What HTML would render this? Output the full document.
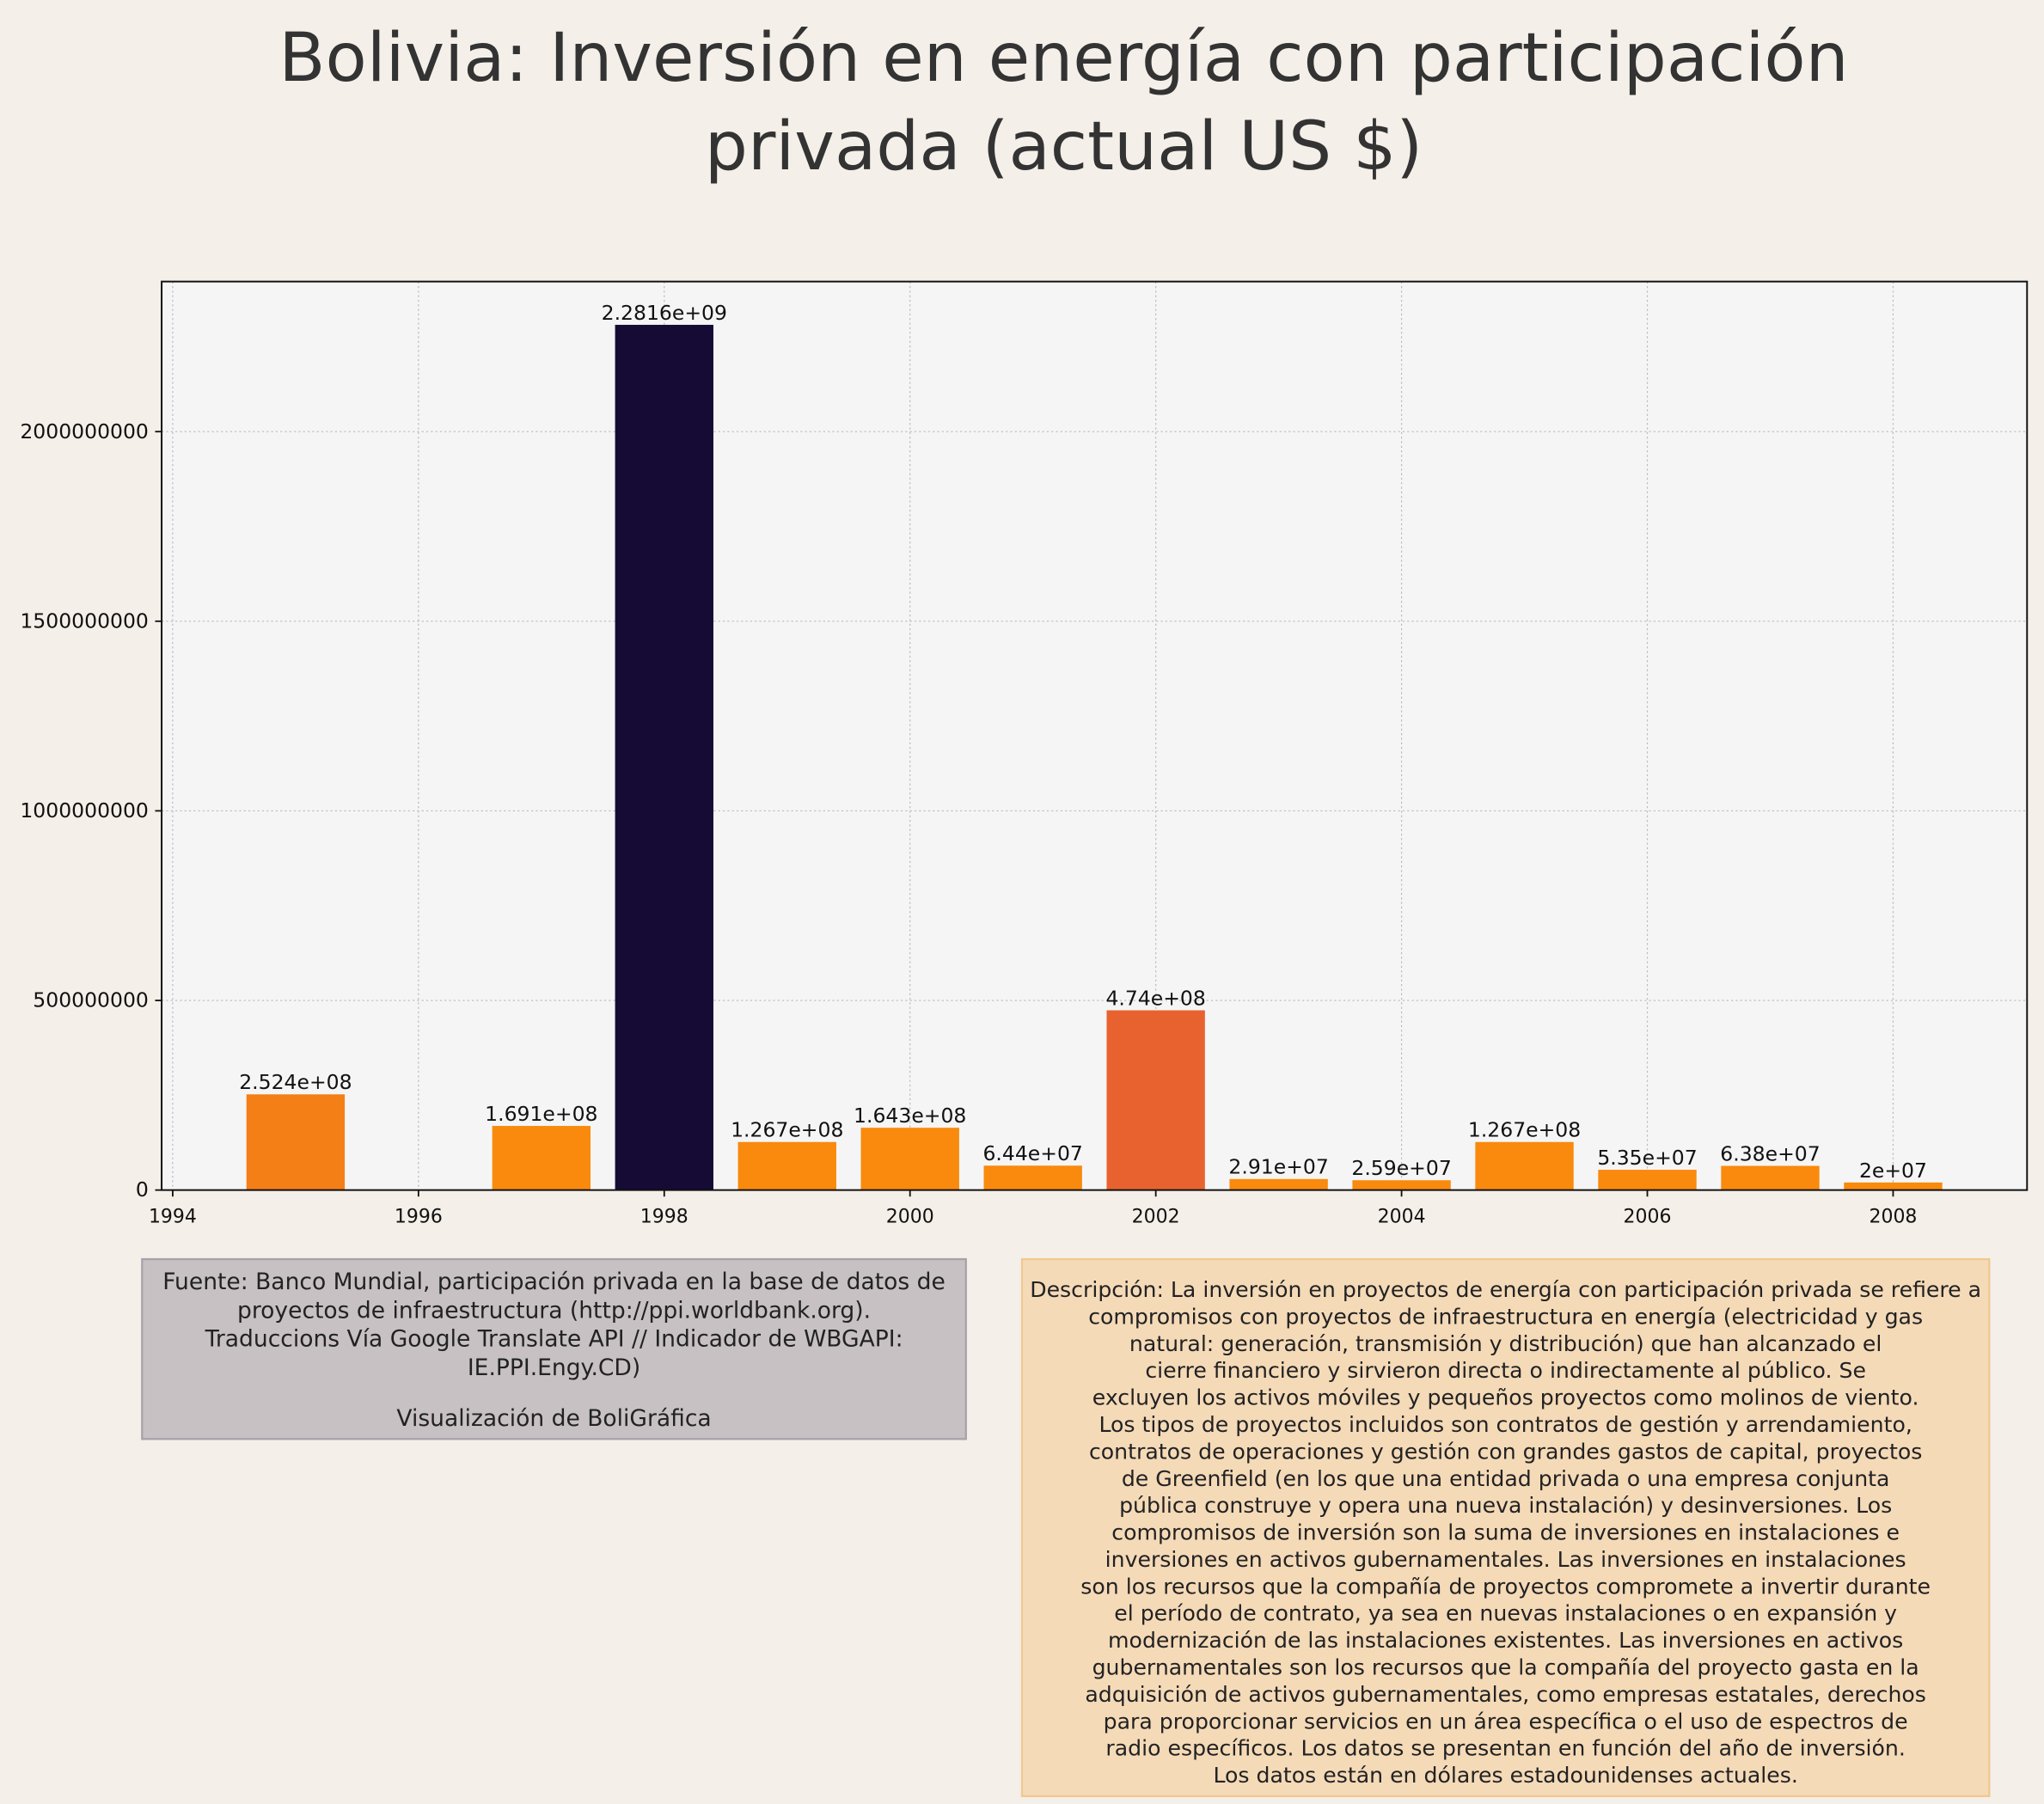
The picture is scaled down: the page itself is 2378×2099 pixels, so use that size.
<!DOCTYPE html>
<html><head><meta charset="utf-8"><style>
html,body{margin:0;padding:0;background:#f4efe8;}
svg{display:block;font-family:"DejaVu Sans","Liberation Sans",sans-serif;}
</style></head><body>
<svg id="chart" width="2378" height="2099" viewBox="0 0 1568 1384" xmlns="http://www.w3.org/2000/svg">
<rect width="1568" height="1384" fill="#f4efe8"/>
<g fill="#333" font-size="52" text-anchor="middle">
<text x="816" y="62">Bolivia:  Inversión en energía con participación</text>
<text x="816" y="130">privada (actual US $)</text>
</g>
<rect x="124" y="216" width="1431" height="697" fill="#f5f5f5"/>
<g id="grid"></g>
<g id="bars"></g>
<g id="labels"></g>
<rect x="124" y="216" width="1431" height="697" fill="none" stroke="#111" stroke-width="1.3"/>
<g id="xaxis"></g>
<g id="yaxis"></g>

<g>
<rect x="109" y="966" width="632" height="138" fill="#c7c1c3" stroke="#a9a1aa" stroke-width="1.5"/>
<g font-size="17.5" fill="#222" text-anchor="middle">
<text x="425" y="989">Fuente: Banco Mundial, participación privada en la base de datos de</text>
<text x="425" y="1011">proyectos de infraestructura (http://ppi.worldbank.org).</text>
<text x="425" y="1033">Traduccions Vía Google Translate API // Indicador de WBGAPI:</text>
<text x="425" y="1055">IE.PPI.Engy.CD)</text>
<text x="425" y="1094">Visualización de BoliGráfica</text>
</g></g>

<g>
<rect x="784" y="966" width="742" height="412" fill="#f5dab8" stroke="#f0c890" stroke-width="1.5"/>
<g font-size="16.6" fill="#222" text-anchor="middle">
<text x="1155" y="995">Descripción: La inversión en proyectos de energía con participación privada se refiere a</text>
<text x="1155" y="1015.7">compromisos con proyectos de infraestructura en energía (electricidad y gas</text>
<text x="1155" y="1036.4">natural: generación, transmisión y distribución) que han alcanzado el</text>
<text x="1155" y="1057.1">cierre financiero y sirvieron directa o indirectamente al público. Se</text>
<text x="1155" y="1077.8">excluyen los activos móviles y pequeños proyectos como molinos de viento.</text>
<text x="1155" y="1098.5">Los tipos de proyectos incluidos son contratos de gestión y arrendamiento,</text>
<text x="1155" y="1119.2">contratos de operaciones y gestión con grandes gastos de capital, proyectos</text>
<text x="1155" y="1139.9">de Greenfield (en los que una entidad privada o una empresa conjunta</text>
<text x="1155" y="1160.6">pública construye y opera una nueva instalación) y desinversiones. Los</text>
<text x="1155" y="1181.3">compromisos de inversión son la suma de inversiones en instalaciones e</text>
<text x="1155" y="1202">inversiones en activos gubernamentales. Las inversiones en instalaciones</text>
<text x="1155" y="1222.7">son los recursos que la compañía de proyectos compromete a invertir durante</text>
<text x="1155" y="1243.4">el período de contrato, ya sea en nuevas instalaciones o en expansión y</text>
<text x="1155" y="1264.1">modernización de las instalaciones existentes. Las inversiones en activos</text>
<text x="1155" y="1284.8">gubernamentales son los recursos que la compañía del proyecto gasta en la</text>
<text x="1155" y="1305.5">adquisición de activos gubernamentales, como empresas estatales, derechos</text>
<text x="1155" y="1326.2">para proporcionar servicios en un área específica o el uso de espectros de</text>
<text x="1155" y="1346.9">radio específicos. Los datos se presentan en función del año de inversión.</text>
<text x="1155" y="1367.6">Los datos están en dólares estadounidenses actuales.</text>
</g></g>
</svg>
<script>
const years = [1995,1997,1998,1999,2000,2001,2002,2003,2004,2005,2006,2007,2008];
const values = [252400000,169100000,2281600000,126700000,164300000,64400000,474000000,29100000,25900000,126700000,53500000,63800000,20000000];
const valueLabels = ["2.524e+08","1.691e+08","2.2816e+09","1.267e+08","1.643e+08","6.44e+07","4.74e+08","2.91e+07","2.59e+07","1.267e+08","5.35e+07","6.38e+07","2e+07"];
const xTicks = [1994,1996,1998,2000,2002,2004,2006,2008];
const yTicks = [0,500000000,1000000000,1500000000,2000000000];
const yTickLabels = ["0","500000000","1000000000","1500000000","2000000000"];

const NS="http://www.w3.org/2000/svg";
const PL=124,PR=1555,PT=216,PB=913;
const xMin=1993.91,xMax=2009.09;
const yMax=Math.max(...values)*1.05;
function xs(v){return PL+(v-xMin)/(xMax-xMin)*(PR-PL);}
function ys(v){return PB-v/yMax*(PB-PT);}
function mk(tag,attrs,parent){const e=document.createElementNS(NS,tag);for(const k in attrs)e.setAttribute(k,attrs[k]);parent.appendChild(e);return e;}
function color(v){if(v>1e9)return "#160b35";if(v>3e8)return "#e8622f";if(v>2e8)return "#f47f17";return "#f98a0d";}

const grid=document.getElementById('grid'),bars=document.getElementById('bars'),labels=document.getElementById('labels');
const xa=document.getElementById('xaxis'),ya=document.getElementById('yaxis');
xTicks.forEach(t=>{
  const x=xs(t);
  const g=mk('line',{x1:x,x2:x,y1:PT,y2:PB,stroke:'#bbb','stroke-width':0.8,'stroke-dasharray':'1.5,2'},grid);
  
  
  const tk=mk('line',{x1:x,x2:x,y1:PB,y2:PB+5,stroke:'#111','stroke-width':1.2},xa);
  
  
  const tl=mk('text',{x:x,y:PB+25,'font-size':14.5,'text-anchor':'middle',fill:'#111'},xa);
  tl.textContent=t;
  
  
});
yTicks.forEach((t,i)=>{
  const y=ys(t);
  const g=mk('line',{x1:PL,x2:PR,y1:y,y2:y,stroke:'#bbb','stroke-width':0.8,'stroke-dasharray':'1.5,2'},grid);
  
  
  const tk=mk('line',{x1:PL-5,x2:PL,y1:y,y2:y,stroke:'#111','stroke-width':1.2},ya);
  
  
  const tl=mk('text',{x:PL-10,y:y+5,'font-size':15.5,'text-anchor':'end',fill:'#111'},ya);
  tl.textContent=yTickLabels[i];
  
  
});
const bw=0.8;
years.forEach((yr,i)=>{
  const v=values[i];
  const x0=xs(yr-bw/2),x1=xs(yr+bw/2),y=ys(v);
  const r=mk('rect',{x:x0,y:y,width:x1-x0,height:PB-y,fill:color(v)},bars);
  
  
  const t=mk('text',{x:xs(yr),y:y-4,'font-size':15.5,'text-anchor':'middle',fill:'#111'},labels);
  t.textContent=valueLabels[i];
  
  
});
</script>
</body></html>
